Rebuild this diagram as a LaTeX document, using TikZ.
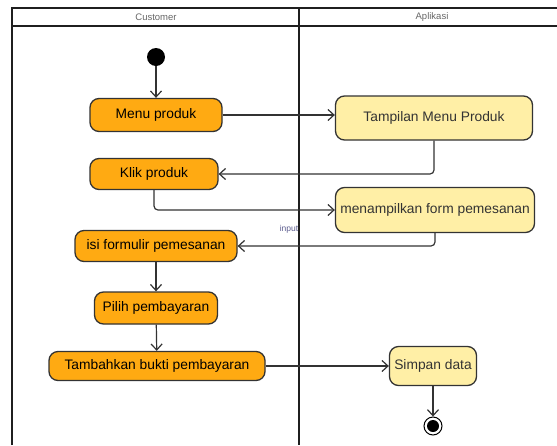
\documentclass[tikz,border=0pt]{standalone}
\usepackage{fontspec}
\setmainfont{Liberation Sans}
\usetikzlibrary{arrows.meta}
\definecolor{actorange}{HTML}{FFAA12}
\definecolor{actyellow}{HTML}{FFEFA6}
\definecolor{edgegray}{HTML}{333333}
\definecolor{lbl}{HTML}{5C5C8E}
\tikzset{
  lane/.style={line width=1.6pt, draw=black!88},
  custact/.style={draw=edgegray, line width=1.3pt, fill=actorange, rounded corners=9pt,
    font=\fontsize{13.8}{15}\selectfont, text=black, inner sep=1pt, anchor=center},
  appact/.style={draw=edgegray, line width=1.3pt, fill=actyellow, rounded corners=9pt,
    font=\fontsize{13.8}{15}\selectfont, text=black!80, inner sep=1pt, anchor=center},
  flow/.style={draw=edgegray, line width=1.2pt, rounded corners=4pt,
    -{Straight Barb[length=6pt,width=11pt,line width=1.2pt]}},
  hdr/.style={font=\fontsize{9.5}{11}\selectfont, text=black!60},
}
\begin{document}
\begin{tikzpicture}[x=1pt,y=-1pt]
\useasboundingbox (0,0) rectangle (557,445);
\clip (0,0) rectangle (557,445);
% swimlanes
\draw[lane] (12,445) -- (12,8) -- (560,8);
\draw[lane] (12,26) -- (560,26);
\draw[lane] (299,8) -- (299,445);
\node[hdr] (hc) at (156,17) {Customer};
\node[hdr] (ha) at (432,17) {Aplikasi};

% nodes
\node[circle, fill=black, minimum size=18pt, inner sep=0pt] (start) at (156,57) {};
\node[custact, minimum width=132pt, minimum height=33pt] (m1) at (156,115) {Menu produk};
\node[custact, minimum width=128pt, minimum height=31pt] (m2) at (154,174) {Klik produk};
\node[custact, minimum width=162pt, minimum height=31pt] (m3) at (156,246) {isi formulir pemesanan};
\node[custact, minimum width=123pt, minimum height=32pt] (m4) at (156,308) {Pilih pembayaran};
\node[custact, minimum width=216pt, minimum height=29pt] (m5) at (157,366) {Tambahkan bukti pembayaran};

\node[appact, minimum width=197pt, minimum height=44pt] (a1) at (434,118) {Tampilan Menu Produk};
\node[appact, minimum width=199pt, minimum height=45pt] (a2) at (435,210) {menampilkan form pemesanan};
\node[appact, minimum width=87pt, minimum height=39pt] (a3) at (433,366) {Simpan data};

\node[circle, draw=black, line width=1pt, fill=white, minimum size=18pt, inner sep=0pt] (end) at (433,426) {};
\node[circle, fill=black, minimum size=12pt, inner sep=0pt] (endin) at (end.center) {};

\node[font=\fontsize{8.5}{10}\selectfont, text=lbl] (inp) at (289,229) {input};

% flows
\draw[flow] (start) -- (m1);
\draw[flow] (m1.east) -- (a1.west |- m1.east);
\draw[flow] (a1.south) -- (a1.south |- m2.east) -- (m2.east);
\draw[flow] (m2.south) -- (m2.south |- a2.west) -- (a2.west);
\draw[flow] (a2.south) -- (a2.south |- m3.east) -- (m3.east);
\draw[flow] (m3) -- (m4);
\draw[flow] (m4) -- (m5);
\draw[flow] (m5.east) -- (a3.west);
\draw[flow] (a3.south) -- (end.north);
\end{tikzpicture}
\end{document}
